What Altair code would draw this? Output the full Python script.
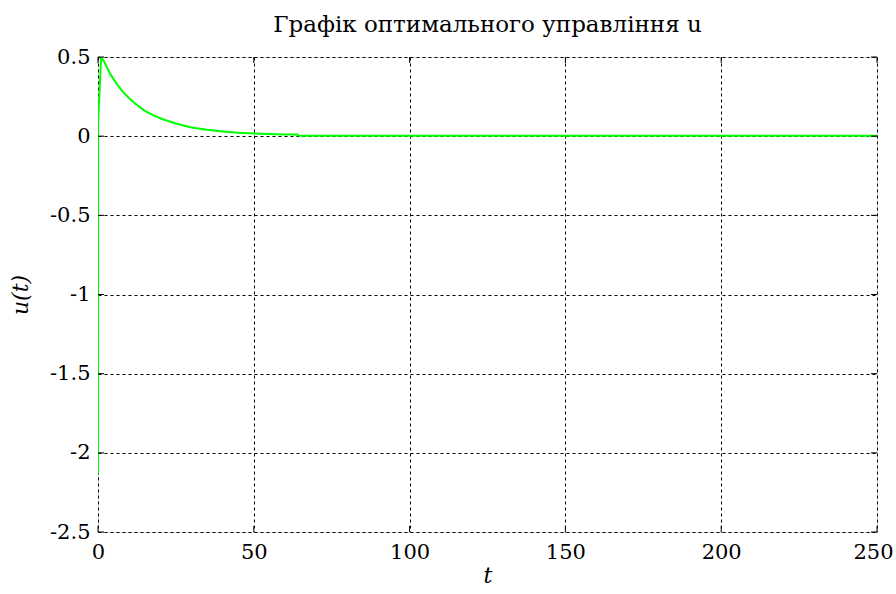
import altair as alt
import pandas as pd

t_vals = [0, 0.05, 1.0, 2, 4, 6, 8, 10, 12, 15, 18, 21, 25, 30, 35, 40, 45, 50, 55, 60, 64, 64.5, 100, 150, 200, 250]
u_vals = [-2.13, 0.09, 0.5, 0.47, 0.39, 0.33, 0.28, 0.24, 0.205, 0.16, 0.13, 0.105, 0.08, 0.055, 0.04, 0.03,
          0.022, 0.017, 0.013, 0.011, 0.01, 0.003, 0.003, 0.003, 0.003, 0.003]
x_ticks = [0, 50, 100, 150, 200, 250]
y_ticks = [-2.5, -2, -1.5, -1, -0.5, 0, 0.5]

df = pd.DataFrame({"t": t_vals, "u": u_vals})
W, H = 779, 475
FONT = "DejaVu Serif"

xs = alt.Scale(domain=[0, 250], nice=False, zero=False)
ys = alt.Scale(domain=[-2.5, 0.5], nice=False, zero=False)

last_x = "datum.value == %d" % x_ticks[-1]

line = alt.Chart(df).mark_line(color="#00ff00", strokeWidth=2, clip=True).encode(
    x=alt.X("t:Q", scale=xs, title="t",
            axis=alt.Axis(values=x_ticks, grid=True, gridColor="black", gridDash=[3, 3], gridOpacity=1,
                          gridWidth=1, tickSize=0, labelPadding=9, domain=False, labelFlush=False,
                          labelAlign={"condition": {"test": last_x, "value": "right"}, "value": "center"},
                          labelOffset={"condition": {"test": last_x, "value": 16}, "value": 0},
                          labelFont=FONT, labelFontSize=21, labelColor="black",
                          titleFont=FONT, titleFontSize=22, titleFontStyle="italic", titleFontWeight="normal",
                          titleColor="black", titlePadding=3)),
    y=alt.Y("u:Q", scale=ys, title="u(t)",
            axis=alt.Axis(values=y_ticks, grid=True, gridColor="black", gridDash=[3, 3], gridOpacity=1,
                          gridWidth=1, tickSize=0, labelPadding=8, domain=False, labelFlush=False,
                          labelFont=FONT, labelFontSize=21, labelColor="black",
                          labelExpr="replace(format(datum.value, '.1~f'), '−', '-')",
                          titleFont=FONT, titleFontSize=22, titleFontStyle="italic", titleFontWeight="normal",
                          titleColor="black", titlePadding=17)),
)

xt = pd.DataFrame({"v": x_ticks})
yt = pd.DataFrame({"v": y_ticks})
xtick_b = alt.Chart(xt).mark_rule(color="black").encode(
    x=alt.X("v:Q", scale=xs), y=alt.value(H), y2=alt.value(H - 6))
xtick_t = alt.Chart(xt).mark_rule(color="black").encode(
    x=alt.X("v:Q", scale=xs), y=alt.value(0), y2=alt.value(6))
ytick_l = alt.Chart(yt).mark_rule(color="black").encode(
    y=alt.Y("v:Q", scale=ys), x=alt.value(0), x2=alt.value(6))
ytick_r = alt.Chart(yt).mark_rule(color="black").encode(
    y=alt.Y("v:Q", scale=ys), x=alt.value(W), x2=alt.value(W - 6))

chart = alt.layer(line, xtick_b, xtick_t, ytick_l, ytick_r).properties(
    width=W, height=H,
    title=alt.Title("Графік оптимального управління u", font=FONT, fontSize=23, fontWeight="normal",
                    color="black", offset=9),
    autosize=alt.AutoSizeParams(type="none"),
    padding={"left": 98, "top": 57, "right": 19, "bottom": 62},
).configure_view(stroke="black", strokeWidth=1).configure(background="white")

chart.save("out.html", embed_options={"renderer": "svg", "actions": False})
